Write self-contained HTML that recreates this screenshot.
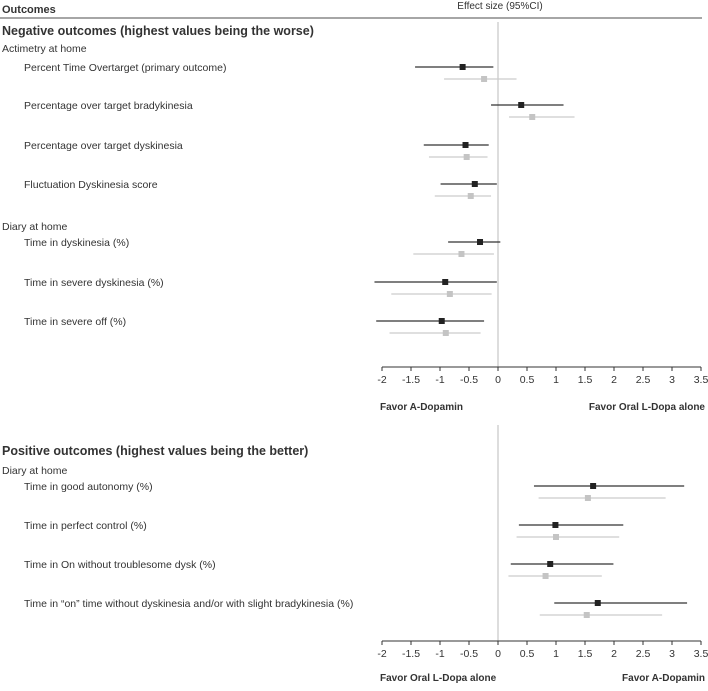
<!DOCTYPE html>
<html><head><meta charset="utf-8"><style>
body{margin:0;background:#fff;font-family:"Liberation Sans",Arial,sans-serif;}
svg text{font-family:"Liberation Sans",Arial,sans-serif;fill:#333;}
</style></head><body>
<svg id="c" width="708" height="686" xmlns="http://www.w3.org/2000/svg">
<text x="2" y="13" font-size="11" font-weight="bold">Outcomes</text>
<text x="500" y="9" font-size="10" text-anchor="middle">Effect size (95%CI)</text>
<line x1="0" y1="18" x2="702" y2="18" stroke="#888" stroke-width="1.5"/>
<text x="2" y="35" font-size="12.5" font-weight="bold">Negative outcomes (highest values being the worse)</text>
<text x="2" y="52" font-size="10.5">Actimetry at home</text>
<text x="2" y="230" font-size="10.5">Diary at home</text>
<text x="2" y="455" font-size="12.5" font-weight="bold">Positive outcomes (highest values being the better)</text>
<text x="2" y="474" font-size="10.5">Diary at home</text>
<g id="g"></g>
</svg>
<script>
const negLabels=["Percent Time Overtarget (primary outcome)","Percentage over target bradykinesia","Percentage over target dyskinesia","Fluctuation Dyskinesia score","Time in dyskinesia (%)","Time in severe dyskinesia (%)","Time in severe off (%)"];
const negRowY=[67,105,145,184,242,282,321];
const negBlack=[-0.61,0.40,-0.56,-0.40,-0.31,-0.91,-0.97];
const negBlackLo=[-1.43,-0.12,-1.28,-0.99,-0.86,-2.13,-2.10];
const negBlackHi=[-0.08,1.13,-0.16,-0.02,0.04,-0.02,-0.24];
const negGray=[-0.24,0.59,-0.54,-0.47,-0.63,-0.83,-0.90];
const negGrayLo=[-0.93,0.19,-1.19,-1.09,-1.46,-1.84,-1.87];
const negGrayHi=[0.32,1.32,-0.18,-0.12,-0.07,-0.11,-0.30];
const posLabels=["Time in good autonomy (%)","Time in perfect control (%)","Time in On without troublesome dysk (%)","Time in \u201con\u201d time without dyskinesia and/or with  slight bradykinesia (%)"];
const posRowY=[486,525,564,603];
const posBlack=[1.64,0.99,0.90,1.72];
const posBlackLo=[0.62,0.36,0.22,0.97];
const posBlackHi=[3.21,2.16,1.99,3.26];
const posGray=[1.55,1.00,0.82,1.53];
const posGrayLo=[0.70,0.32,0.18,0.72];
const posGrayHi=[2.89,2.09,1.79,2.83];
const ticks=[-2,-1.5,-1,-0.5,0,0.5,1,1.5,2,2.5,3,3.5];
const tickLabels=["-2","-1.5","-1","-0.5","0","0.5","1","1.5","2","2.5","3","3.5"];

const NS="http://www.w3.org/2000/svg";
const g=document.getElementById('g');
const x=v=>498+v*58;
function mk(t,a){const e=document.createElementNS(NS,t);for(const k in a)e.setAttribute(k,a[k]);g.appendChild(e);return e;}
function section(labels,rowY,b,bl,bh,gr,gl,gh,y0,favY,axisY,leftTxt,rightTxt,pre){
  let z=mk('line',{x1:x(0),y1:y0,x2:x(0),y2:axisY,stroke:'#bbb','stroke-width':1});
  
  
  labels.forEach((l,i)=>{
    const t=mk('text',{x:24,y:rowY[i]+4,'font-size':10.5});t.textContent=l;
    
    
    const y=rowY[i],yg=rowY[i]+12;
    const l1=mk('line',{x1:x(bl[i]),y1:y,x2:x(bh[i]),y2:y,stroke:'#333','stroke-width':1.2});
    
    
    const r1=mk('rect',{x:x(b[i])-3,y:y-3,width:6,height:6,fill:'#222'});
    
    
    const l2=mk('line',{x1:x(gl[i]),y1:yg,x2:x(gh[i]),y2:yg,stroke:'#ccc','stroke-width':1.2});
    
    
    const r2=mk('rect',{x:x(gr[i])-3,y:yg-3,width:6,height:6,fill:'#c4c4c4'});
    
    
  });
  const ax=mk('line',{x1:x(-2),y1:axisY,x2:x(3.5),y2:axisY,stroke:'#333','stroke-width':1});
  
  
  ticks.forEach((v,i)=>{
    const tk=mk('line',{x1:x(v),y1:axisY,x2:x(v),y2:axisY+4,stroke:'#333'});
    
    
    const tl=mk('text',{x:x(v),y:axisY+16,'font-size':10.5,'text-anchor':'middle'});tl.textContent=tickLabels[i];
    
    
  });
  const a=mk('text',{x:380,y:favY,'font-size':10,'font-weight':'bold'});a.textContent=leftTxt;
  
  
  const c=mk('text',{x:705,y:favY,'font-size':10,'font-weight':'bold','text-anchor':'end'});c.textContent=rightTxt;
  
  
}
section(negLabels,negRowY,negBlack,negBlackLo,negBlackHi,negGray,negGrayLo,negGrayHi,22,410,367,"Favor A-Dopamin","Favor Oral L-Dopa alone","negative");
section(posLabels,posRowY,posBlack,posBlackLo,posBlackHi,posGray,posGrayLo,posGrayHi,425,681,641,"Favor Oral L-Dopa alone","Favor A-Dopamin","positive");
</script>
</body></html>
